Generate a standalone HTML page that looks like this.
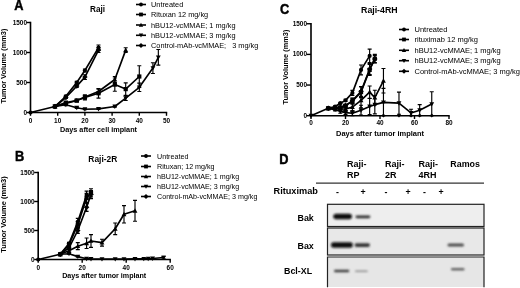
<!DOCTYPE html>
<html><head><meta charset="utf-8"><title>Figure</title><style>html,body{margin:0;padding:0;background:#fff}body{width:520px;height:288px;overflow:hidden}</style></head><body>
<svg width="520" height="288" viewBox="0 0 520 288" style="display:block;filter:blur(0.35px)">
<rect width="520" height="288" fill="#fff"/>
<text transform="translate(14.3 10.1) scale(1 1.13)" font-size="12.8" font-family="Liberation Sans, sans-serif" font-weight="bold" stroke="#000" stroke-width="0.4" text-anchor="start" fill="#000">A</text>
<text x="97.5" y="11.9" font-size="8.2" font-family="Liberation Sans, sans-serif" font-weight="bold" text-anchor="middle" fill="#000">Raji</text>
<path d="M30.5 21.80V112.5H167.20" fill="none" stroke="#000" stroke-width="1.6"/>
<path d="M26.5 112.50H30.5" stroke="#000" stroke-width="1.4"/>
<text transform="translate(27.0 114.55) scale(0.95 1)" font-size="6.8" font-family="Liberation Sans, sans-serif" font-weight="bold" text-anchor="end" fill="#000">0</text>
<path d="M26.5 82.50H30.5" stroke="#000" stroke-width="1.4"/>
<text transform="translate(27.0 84.55) scale(0.95 1)" font-size="6.8" font-family="Liberation Sans, sans-serif" font-weight="bold" text-anchor="end" fill="#000">500</text>
<path d="M26.5 52.50H30.5" stroke="#000" stroke-width="1.4"/>
<text transform="translate(27.0 54.55) scale(0.95 1)" font-size="6.8" font-family="Liberation Sans, sans-serif" font-weight="bold" text-anchor="end" fill="#000">1000</text>
<path d="M26.5 22.50H30.5" stroke="#000" stroke-width="1.4"/>
<text transform="translate(27.0 24.55) scale(0.95 1)" font-size="6.8" font-family="Liberation Sans, sans-serif" font-weight="bold" text-anchor="end" fill="#000">1500</text>
<path d="M30.50 112.5V115.8" stroke="#000" stroke-width="1.4"/>
<text transform="translate(30.5 122.5) scale(0.95 1)" font-size="6.8" font-family="Liberation Sans, sans-serif" font-weight="bold" text-anchor="middle" fill="#000">0</text>
<path d="M57.70 112.5V115.8" stroke="#000" stroke-width="1.4"/>
<text transform="translate(57.7 122.5) scale(0.95 1)" font-size="6.8" font-family="Liberation Sans, sans-serif" font-weight="bold" text-anchor="middle" fill="#000">10</text>
<path d="M84.90 112.5V115.8" stroke="#000" stroke-width="1.4"/>
<text transform="translate(84.9 122.5) scale(0.95 1)" font-size="6.8" font-family="Liberation Sans, sans-serif" font-weight="bold" text-anchor="middle" fill="#000">20</text>
<path d="M112.10 112.5V115.8" stroke="#000" stroke-width="1.4"/>
<text transform="translate(112.1 122.5) scale(0.95 1)" font-size="6.8" font-family="Liberation Sans, sans-serif" font-weight="bold" text-anchor="middle" fill="#000">30</text>
<path d="M139.30 112.5V115.8" stroke="#000" stroke-width="1.4"/>
<text transform="translate(139.3 122.5) scale(0.95 1)" font-size="6.8" font-family="Liberation Sans, sans-serif" font-weight="bold" text-anchor="middle" fill="#000">40</text>
<path d="M166.50 112.5V115.8" stroke="#000" stroke-width="1.4"/>
<text transform="translate(166.5 122.5) scale(0.95 1)" font-size="6.8" font-family="Liberation Sans, sans-serif" font-weight="bold" text-anchor="middle" fill="#000">50</text>
<path d="M54.98 105.90V107.10M52.98 105.90H56.98M52.98 107.10H56.98" stroke="#000" stroke-width="1.15" fill="none"/>
<path d="M65.86 95.40V97.20M63.86 95.40H67.86M63.86 97.20H67.86" stroke="#000" stroke-width="1.15" fill="none"/>
<path d="M76.74 81.30V83.70M74.74 81.30H78.74M74.74 83.70H78.74" stroke="#000" stroke-width="1.15" fill="none"/>
<path d="M84.90 69.00V72.00M82.90 69.00H86.90M82.90 72.00H86.90" stroke="#000" stroke-width="1.15" fill="none"/>
<path d="M98.50 45.00V50.40M96.50 45.00H100.50M96.50 50.40H100.50" stroke="#000" stroke-width="1.15" fill="none"/>
<path d="M30.50 112.50 L54.98 106.50 L65.86 96.30 L76.74 82.50 L84.90 70.50 L98.50 47.70" fill="none" stroke="#000" stroke-width="1.65" stroke-linejoin="round"/>
<circle cx="30.50" cy="112.50" r="2.10" fill="#000"/>
<circle cx="54.98" cy="106.50" r="2.10" fill="#000"/>
<circle cx="65.86" cy="96.30" r="2.10" fill="#000"/>
<circle cx="76.74" cy="82.50" r="2.10" fill="#000"/>
<circle cx="84.90" cy="70.50" r="2.10" fill="#000"/>
<circle cx="98.50" cy="47.70" r="2.10" fill="#000"/>
<path d="M54.98 105.90V107.10M52.98 105.90H56.98M52.98 107.10H56.98" stroke="#000" stroke-width="1.15" fill="none"/>
<path d="M65.86 96.60V98.40M63.86 96.60H67.86M63.86 98.40H67.86" stroke="#000" stroke-width="1.15" fill="none"/>
<path d="M76.74 84.90V87.30M74.74 84.90H78.74M74.74 87.30H78.74" stroke="#000" stroke-width="1.15" fill="none"/>
<path d="M84.90 74.70V79.50M82.90 74.70H86.90M82.90 79.50H86.90" stroke="#000" stroke-width="1.15" fill="none"/>
<path d="M98.50 47.70V52.50M96.50 47.70H100.50M96.50 52.50H100.50" stroke="#000" stroke-width="1.15" fill="none"/>
<path d="M54.98 106.50 L65.86 97.50 L76.74 86.10 L84.90 77.10 L98.50 50.10" fill="none" stroke="#000" stroke-width="1.65" stroke-linejoin="round"/>
<polygon points="54.98,103.77 57.71,106.50 54.98,109.23 52.25,106.50" fill="#000"/>
<polygon points="65.86,94.77 68.59,97.50 65.86,100.23 63.13,97.50" fill="#000"/>
<polygon points="76.74,83.37 79.47,86.10 76.74,88.83 74.01,86.10" fill="#000"/>
<polygon points="84.90,74.37 87.63,77.10 84.90,79.83 82.17,77.10" fill="#000"/>
<polygon points="98.50,47.37 101.23,50.10 98.50,52.83 95.77,50.10" fill="#000"/>
<path d="M54.98 105.90V107.10M52.98 105.90H56.98M52.98 107.10H56.98" stroke="#000" stroke-width="1.15" fill="none"/>
<path d="M65.86 102.60V104.40M63.86 102.60H67.86M63.86 104.40H67.86" stroke="#000" stroke-width="1.15" fill="none"/>
<path d="M76.74 99.60V101.40M74.74 99.60H78.74M74.74 101.40H78.74" stroke="#000" stroke-width="1.15" fill="none"/>
<path d="M84.90 95.10V98.70M82.90 95.10H86.90M82.90 98.70H86.90" stroke="#000" stroke-width="1.15" fill="none"/>
<path d="M98.50 89.10V93.90M96.50 89.10H100.50M96.50 93.90H100.50" stroke="#000" stroke-width="1.15" fill="none"/>
<path d="M114.82 76.50V82.50M112.82 76.50H116.82M112.82 82.50H116.82" stroke="#000" stroke-width="1.15" fill="none"/>
<path d="M125.70 47.70V52.50M123.70 47.70H127.70M123.70 52.50H127.70" stroke="#000" stroke-width="1.15" fill="none"/>
<path d="M54.98 106.50 L65.86 103.50 L76.74 100.50 L84.90 96.90 L98.50 91.50 L114.82 79.50 L125.70 50.10" fill="none" stroke="#000" stroke-width="1.65" stroke-linejoin="round"/>
<polygon points="54.98,103.98 57.40,108.39 52.57,108.39" fill="#000"/>
<polygon points="65.86,100.98 68.28,105.39 63.45,105.39" fill="#000"/>
<polygon points="76.74,97.98 79.16,102.39 74.33,102.39" fill="#000"/>
<polygon points="84.90,94.38 87.32,98.79 82.48,98.79" fill="#000"/>
<polygon points="98.50,88.98 100.92,93.39 96.08,93.39" fill="#000"/>
<polygon points="114.82,76.98 117.24,81.39 112.41,81.39" fill="#000"/>
<polygon points="125.70,47.58 128.12,51.99 123.28,51.99" fill="#000"/>
<path d="M54.98 105.90V107.10M52.98 105.90H56.98M52.98 107.10H56.98" stroke="#000" stroke-width="1.15" fill="none"/>
<path d="M65.86 101.70V103.50M63.86 101.70H67.86M63.86 103.50H67.86" stroke="#000" stroke-width="1.15" fill="none"/>
<path d="M76.74 99.30V101.70M74.74 99.30H78.74M74.74 101.70H78.74" stroke="#000" stroke-width="1.15" fill="none"/>
<path d="M84.90 95.10V99.90M82.90 95.10H86.90M82.90 99.90H86.90" stroke="#000" stroke-width="1.15" fill="none"/>
<path d="M98.50 88.50V98.10M96.50 88.50H100.50M96.50 98.10H100.50" stroke="#000" stroke-width="1.15" fill="none"/>
<path d="M114.82 78.00V91.20M112.82 78.00H116.82M112.82 91.20H116.82" stroke="#000" stroke-width="1.15" fill="none"/>
<path d="M125.70 82.80V95.40M123.70 82.80H127.70M123.70 95.40H127.70" stroke="#000" stroke-width="1.15" fill="none"/>
<path d="M139.30 65.70V87.30M137.30 65.70H141.30M137.30 87.30H141.30" stroke="#000" stroke-width="1.15" fill="none"/>
<path d="M54.98 106.50 L65.86 102.60 L76.74 100.50 L84.90 97.50 L98.50 93.30 L114.82 84.60 L125.70 89.10 L139.30 76.50" fill="none" stroke="#000" stroke-width="1.65" stroke-linejoin="round"/>
<rect x="52.88" y="104.40" width="4.20" height="4.20" fill="#000"/>
<rect x="63.76" y="100.50" width="4.20" height="4.20" fill="#000"/>
<rect x="74.64" y="98.40" width="4.20" height="4.20" fill="#000"/>
<rect x="82.80" y="95.40" width="4.20" height="4.20" fill="#000"/>
<rect x="96.40" y="91.20" width="4.20" height="4.20" fill="#000"/>
<rect x="112.72" y="82.50" width="4.20" height="4.20" fill="#000"/>
<rect x="123.60" y="87.00" width="4.20" height="4.20" fill="#000"/>
<rect x="137.20" y="74.40" width="4.20" height="4.20" fill="#000"/>
<path d="M54.98 105.90V107.10M52.98 105.90H56.98M52.98 107.10H56.98" stroke="#000" stroke-width="1.15" fill="none"/>
<path d="M65.86 103.80V105.60M63.86 103.80H67.86M63.86 105.60H67.86" stroke="#000" stroke-width="1.15" fill="none"/>
<path d="M76.74 107.10V108.30M74.74 107.10H78.74M74.74 108.30H78.74" stroke="#000" stroke-width="1.15" fill="none"/>
<path d="M84.90 108.72V109.68M82.90 108.72H86.90M82.90 109.68H86.90" stroke="#000" stroke-width="1.15" fill="none"/>
<path d="M98.50 108.42V109.38M96.50 108.42H100.50M96.50 109.38H100.50" stroke="#000" stroke-width="1.15" fill="none"/>
<path d="M114.82 105.90V107.10M112.82 105.90H116.82M112.82 107.10H116.82" stroke="#000" stroke-width="1.15" fill="none"/>
<path d="M125.70 95.70V100.50M123.70 95.70H127.70M123.70 100.50H127.70" stroke="#000" stroke-width="1.15" fill="none"/>
<path d="M139.30 83.10V91.50M137.30 83.10H141.30M137.30 91.50H141.30" stroke="#000" stroke-width="1.15" fill="none"/>
<path d="M152.90 62.70V73.50M150.90 62.70H154.90M150.90 73.50H154.90" stroke="#000" stroke-width="1.15" fill="none"/>
<path d="M158.34 49.50V65.10M156.34 49.50H160.34M156.34 65.10H160.34" stroke="#000" stroke-width="1.15" fill="none"/>
<path d="M54.98 106.50 L65.86 104.70 L76.74 107.70 L84.90 109.20 L98.50 108.90 L114.82 106.50 L125.70 98.10 L139.30 87.30 L152.90 68.10 L158.34 57.30" fill="none" stroke="#000" stroke-width="1.65" stroke-linejoin="round"/>
<polygon points="54.98,109.02 57.40,104.61 52.57,104.61" fill="#000"/>
<polygon points="65.86,107.22 68.28,102.81 63.45,102.81" fill="#000"/>
<polygon points="76.74,110.22 79.16,105.81 74.33,105.81" fill="#000"/>
<polygon points="84.90,111.72 87.32,107.31 82.48,107.31" fill="#000"/>
<polygon points="98.50,111.42 100.92,107.01 96.08,107.01" fill="#000"/>
<polygon points="114.82,109.02 117.24,104.61 112.41,104.61" fill="#000"/>
<polygon points="125.70,100.62 128.12,96.21 123.28,96.21" fill="#000"/>
<polygon points="139.30,89.82 141.72,85.41 136.89,85.41" fill="#000"/>
<polygon points="152.90,70.62 155.31,66.21 150.49,66.21" fill="#000"/>
<polygon points="158.34,59.82 160.75,55.41 155.93,55.41" fill="#000"/>
<text x="6.3" y="66" font-size="7.4" font-family="Liberation Sans, sans-serif" font-weight="bold" text-anchor="middle" fill="#000" transform="rotate(-90 6.3 66)">Tumor Volume (mm3)</text>
<text x="98.5" y="132.2" font-size="7.25" font-family="Liberation Sans, sans-serif" font-weight="bold" text-anchor="middle" fill="#000">Days after cell implant</text>
<path d="M136 4.5H146" stroke="#000" stroke-width="1.6"/>
<circle cx="141.00" cy="4.50" r="1.90" fill="#000"/>
<text x="151" y="7.1" font-size="7.35" font-family="Liberation Sans, sans-serif" text-anchor="start" fill="#000">Untreated</text>
<path d="M136 14.5H146" stroke="#000" stroke-width="1.6"/>
<rect x="139.10" y="12.60" width="3.80" height="3.80" fill="#000"/>
<text x="151" y="17.1" font-size="7.35" font-family="Liberation Sans, sans-serif" text-anchor="start" fill="#000">Rituxan 12 mg/kg</text>
<path d="M136 25H146" stroke="#000" stroke-width="1.6"/>
<polygon points="141.00,22.72 143.19,26.71 138.81,26.71" fill="#000"/>
<text x="151" y="27.6" font-size="7.35" font-family="Liberation Sans, sans-serif" text-anchor="start" fill="#000">hBU12-vcMMAE; 1 mg/kg</text>
<path d="M136 35.3H146" stroke="#000" stroke-width="1.6"/>
<polygon points="141.00,37.58 143.19,33.59 138.81,33.59" fill="#000"/>
<text x="151" y="37.9" font-size="7.35" font-family="Liberation Sans, sans-serif" text-anchor="start" fill="#000">hBU12-vcMMAE; 3 mg/kg</text>
<path d="M136 45.5H146" stroke="#000" stroke-width="1.6"/>
<polygon points="141.00,43.03 143.47,45.50 141.00,47.97 138.53,45.50" fill="#000"/>
<text x="151" y="48.1" font-size="7.35" font-family="Liberation Sans, sans-serif" text-anchor="start" fill="#000">Control-mAb-vcMMAE;&#160;&#160; 3 mg/kg</text>
<text transform="translate(14.9 161.3) scale(1 1.13)" font-size="12.8" font-family="Liberation Sans, sans-serif" font-weight="bold" stroke="#000" stroke-width="0.4" text-anchor="start" fill="#000">B</text>
<text x="102.8" y="161.5" font-size="8.4" font-family="Liberation Sans, sans-serif" font-weight="bold" text-anchor="middle" fill="#000">Raji-2R</text>
<path d="M38.2 171.80V259.5H170.90" fill="none" stroke="#000" stroke-width="1.6"/>
<path d="M34.2 259.50H38.2" stroke="#000" stroke-width="1.4"/>
<text transform="translate(34.7 261.55) scale(0.95 1)" font-size="6.8" font-family="Liberation Sans, sans-serif" font-weight="bold" text-anchor="end" fill="#000">0</text>
<path d="M34.2 230.50H38.2" stroke="#000" stroke-width="1.4"/>
<text transform="translate(34.7 232.55) scale(0.95 1)" font-size="6.8" font-family="Liberation Sans, sans-serif" font-weight="bold" text-anchor="end" fill="#000">500</text>
<path d="M34.2 201.50H38.2" stroke="#000" stroke-width="1.4"/>
<text transform="translate(34.7 203.55) scale(0.95 1)" font-size="6.8" font-family="Liberation Sans, sans-serif" font-weight="bold" text-anchor="end" fill="#000">1000</text>
<path d="M34.2 172.50H38.2" stroke="#000" stroke-width="1.4"/>
<text transform="translate(34.7 174.55) scale(0.95 1)" font-size="6.8" font-family="Liberation Sans, sans-serif" font-weight="bold" text-anchor="end" fill="#000">1500</text>
<path d="M38.20 259.5V262.8" stroke="#000" stroke-width="1.4"/>
<text transform="translate(38.2 269.5) scale(0.95 1)" font-size="6.8" font-family="Liberation Sans, sans-serif" font-weight="bold" text-anchor="middle" fill="#000">0</text>
<path d="M82.20 259.5V262.8" stroke="#000" stroke-width="1.4"/>
<text transform="translate(82.2 269.5) scale(0.95 1)" font-size="6.8" font-family="Liberation Sans, sans-serif" font-weight="bold" text-anchor="middle" fill="#000">20</text>
<path d="M126.20 259.5V262.8" stroke="#000" stroke-width="1.4"/>
<text transform="translate(126.2 269.5) scale(0.95 1)" font-size="6.8" font-family="Liberation Sans, sans-serif" font-weight="bold" text-anchor="middle" fill="#000">40</text>
<path d="M170.20 259.5V262.8" stroke="#000" stroke-width="1.4"/>
<text transform="translate(170.2 269.5) scale(0.95 1)" font-size="6.8" font-family="Liberation Sans, sans-serif" font-weight="bold" text-anchor="middle" fill="#000">60</text>
<path d="M60.20 253.82V254.74M58.20 253.82H62.20M58.20 254.74H62.20" stroke="#000" stroke-width="1.15" fill="none"/>
<path d="M69.00 242.39V244.71M67.00 242.39H71.00M67.00 244.71H71.00" stroke="#000" stroke-width="1.15" fill="none"/>
<path d="M77.80 218.32V225.28M75.80 218.32H79.80M75.80 225.28H79.80" stroke="#000" stroke-width="1.15" fill="none"/>
<path d="M86.60 191.06V199.18M84.60 191.06H88.60M84.60 199.18H88.60" stroke="#000" stroke-width="1.15" fill="none"/>
<path d="M38.20 259.50 L60.20 254.28 L69.00 243.55 L77.80 221.80 L86.60 195.12" fill="none" stroke="#000" stroke-width="1.65" stroke-linejoin="round"/>
<circle cx="38.20" cy="259.50" r="2.10" fill="#000"/>
<circle cx="60.20" cy="254.28" r="2.10" fill="#000"/>
<circle cx="69.00" cy="243.55" r="2.10" fill="#000"/>
<circle cx="77.80" cy="221.80" r="2.10" fill="#000"/>
<circle cx="86.60" cy="195.12" r="2.10" fill="#000"/>
<path d="M60.20 253.82V254.74M58.20 253.82H62.20M58.20 254.74H62.20" stroke="#000" stroke-width="1.15" fill="none"/>
<path d="M69.00 243.84V246.16M67.00 243.84H71.00M67.00 246.16H71.00" stroke="#000" stroke-width="1.15" fill="none"/>
<path d="M77.80 221.22V228.18M75.80 221.22H79.80M75.80 228.18H79.80" stroke="#000" stroke-width="1.15" fill="none"/>
<path d="M86.60 193.38V202.66M84.60 193.38H88.60M84.60 202.66H88.60" stroke="#000" stroke-width="1.15" fill="none"/>
<path d="M91.00 188.74V196.86M89.00 188.74H93.00M89.00 196.86H93.00" stroke="#000" stroke-width="1.15" fill="none"/>
<path d="M60.20 254.28 L69.00 245.00 L77.80 224.70 L86.60 198.02 L91.00 192.80" fill="none" stroke="#000" stroke-width="1.65" stroke-linejoin="round"/>
<rect x="58.10" y="252.18" width="4.20" height="4.20" fill="#000"/>
<rect x="66.90" y="242.90" width="4.20" height="4.20" fill="#000"/>
<rect x="75.70" y="222.60" width="4.20" height="4.20" fill="#000"/>
<rect x="84.50" y="195.92" width="4.20" height="4.20" fill="#000"/>
<rect x="88.90" y="190.70" width="4.20" height="4.20" fill="#000"/>
<path d="M60.20 253.82V254.74M58.20 253.82H62.20M58.20 254.74H62.20" stroke="#000" stroke-width="1.15" fill="none"/>
<path d="M69.00 246.74V249.06M67.00 246.74H71.00M67.00 249.06H71.00" stroke="#000" stroke-width="1.15" fill="none"/>
<path d="M77.80 227.60V233.40M75.80 227.60H79.80M75.80 233.40H79.80" stroke="#000" stroke-width="1.15" fill="none"/>
<path d="M86.60 203.24V211.36M84.60 203.24H88.60M84.60 211.36H88.60" stroke="#000" stroke-width="1.15" fill="none"/>
<path d="M91.00 190.48V198.60M89.00 190.48H93.00M89.00 198.60H93.00" stroke="#000" stroke-width="1.15" fill="none"/>
<path d="M60.20 254.28 L69.00 247.90 L77.80 230.50 L86.60 207.30 L91.00 194.54" fill="none" stroke="#000" stroke-width="1.65" stroke-linejoin="round"/>
<polygon points="60.20,251.55 62.93,254.28 60.20,257.01 57.47,254.28" fill="#000"/>
<polygon points="69.00,245.17 71.73,247.90 69.00,250.63 66.27,247.90" fill="#000"/>
<polygon points="77.80,227.77 80.53,230.50 77.80,233.23 75.07,230.50" fill="#000"/>
<polygon points="86.60,204.57 89.33,207.30 86.60,210.03 83.87,207.30" fill="#000"/>
<polygon points="91.00,191.81 93.73,194.54 91.00,197.27 88.27,194.54" fill="#000"/>
<path d="M60.20 253.82V254.74M58.20 253.82H62.20M58.20 254.74H62.20" stroke="#000" stroke-width="1.15" fill="none"/>
<path d="M69.00 249.06V252.54M67.00 249.06H71.00M67.00 252.54H71.00" stroke="#000" stroke-width="1.15" fill="none"/>
<path d="M77.80 242.68V249.64M75.80 242.68H79.80M75.80 249.64H79.80" stroke="#000" stroke-width="1.15" fill="none"/>
<path d="M86.60 238.04V248.48M84.60 238.04H88.60M84.60 248.48H88.60" stroke="#000" stroke-width="1.15" fill="none"/>
<path d="M91.00 234.56V247.32M89.00 234.56H93.00M89.00 247.32H93.00" stroke="#000" stroke-width="1.15" fill="none"/>
<path d="M102.00 239.20V246.16M100.00 239.20H104.00M100.00 246.16H104.00" stroke="#000" stroke-width="1.15" fill="none"/>
<path d="M115.20 222.96V234.56M113.20 222.96H117.20M113.20 234.56H117.20" stroke="#000" stroke-width="1.15" fill="none"/>
<path d="M124.00 205.56V222.96M122.00 205.56H126.00M122.00 222.96H126.00" stroke="#000" stroke-width="1.15" fill="none"/>
<path d="M135.00 200.34V221.22M133.00 200.34H137.00M133.00 221.22H137.00" stroke="#000" stroke-width="1.15" fill="none"/>
<path d="M60.20 254.28 L69.00 250.80 L77.80 246.16 L86.60 243.26 L91.00 240.94 L102.00 242.68 L115.20 228.76 L124.00 214.26 L135.00 210.78" fill="none" stroke="#000" stroke-width="1.65" stroke-linejoin="round"/>
<polygon points="60.20,251.76 62.62,256.17 57.79,256.17" fill="#000"/>
<polygon points="69.00,248.28 71.42,252.69 66.58,252.69" fill="#000"/>
<polygon points="77.80,243.64 80.22,248.05 75.39,248.05" fill="#000"/>
<polygon points="86.60,240.74 89.02,245.15 84.19,245.15" fill="#000"/>
<polygon points="91.00,238.42 93.42,242.83 88.58,242.83" fill="#000"/>
<polygon points="102.00,240.16 104.42,244.57 99.58,244.57" fill="#000"/>
<polygon points="115.20,226.24 117.62,230.65 112.78,230.65" fill="#000"/>
<polygon points="124.00,211.74 126.42,216.15 121.59,216.15" fill="#000"/>
<polygon points="135.00,208.26 137.41,212.67 132.59,212.67" fill="#000"/>
<path d="M60.20 253.82V254.74M58.20 253.82H62.20M58.20 254.74H62.20" stroke="#000" stroke-width="1.15" fill="none"/>
<path d="M69.00 253.12V254.28M67.00 253.12H71.00M67.00 254.28H71.00" stroke="#000" stroke-width="1.15" fill="none"/>
<path d="M77.80 256.02V257.18M75.80 256.02H79.80M75.80 257.18H79.80" stroke="#000" stroke-width="1.15" fill="none"/>
<path d="M163.60 256.25V258.80M161.60 256.25H165.60M161.60 258.80H165.60" stroke="#000" stroke-width="1.15" fill="none"/>
<path d="M60.20 254.28 L69.00 253.70 L77.80 256.60 L86.60 258.69 L91.00 258.92 L102.00 259.04 L115.20 259.04 L124.00 259.04 L135.00 258.92 L143.80 258.80 L148.20 258.69 L152.60 258.46 L163.60 257.53" fill="none" stroke="#000" stroke-width="1.65" stroke-linejoin="round"/>
<polygon points="60.20,256.80 62.62,252.39 57.79,252.39" fill="#000"/>
<polygon points="69.00,256.22 71.42,251.81 66.58,251.81" fill="#000"/>
<polygon points="77.80,259.12 80.22,254.71 75.39,254.71" fill="#000"/>
<polygon points="86.60,261.21 89.02,256.80 84.19,256.80" fill="#000"/>
<polygon points="91.00,261.44 93.42,257.03 88.58,257.03" fill="#000"/>
<polygon points="102.00,261.56 104.42,257.15 99.58,257.15" fill="#000"/>
<polygon points="115.20,261.56 117.62,257.15 112.78,257.15" fill="#000"/>
<polygon points="124.00,261.56 126.42,257.15 121.59,257.15" fill="#000"/>
<polygon points="135.00,261.44 137.41,257.03 132.59,257.03" fill="#000"/>
<polygon points="143.80,261.32 146.22,256.91 141.39,256.91" fill="#000"/>
<polygon points="148.20,261.21 150.62,256.80 145.79,256.80" fill="#000"/>
<polygon points="152.60,260.98 155.02,256.57 150.19,256.57" fill="#000"/>
<polygon points="163.60,260.05 166.02,255.64 161.19,255.64" fill="#000"/>
<text x="6.3" y="214.5" font-size="7.55" font-family="Liberation Sans, sans-serif" font-weight="bold" text-anchor="middle" fill="#000" transform="rotate(-90 6.3 214.5)">Tumor Volume (mm3)</text>
<text x="104.2" y="278" font-size="7.13" font-family="Liberation Sans, sans-serif" font-weight="bold" text-anchor="middle" fill="#000">Days after tumor implant</text>
<path d="M141 156H151" stroke="#000" stroke-width="1.6"/>
<circle cx="146.00" cy="156.00" r="1.90" fill="#000"/>
<text x="157" y="158.6" font-size="7.15" font-family="Liberation Sans, sans-serif" text-anchor="start" fill="#000">Untreated</text>
<path d="M141 166.5H151" stroke="#000" stroke-width="1.6"/>
<rect x="144.10" y="164.60" width="3.80" height="3.80" fill="#000"/>
<text x="157" y="169.1" font-size="7.15" font-family="Liberation Sans, sans-serif" text-anchor="start" fill="#000">Rituxan; 12 mg/kg</text>
<path d="M141 176.5H151" stroke="#000" stroke-width="1.6"/>
<polygon points="146.00,174.22 148.19,178.21 143.81,178.21" fill="#000"/>
<text x="157" y="179.1" font-size="7.15" font-family="Liberation Sans, sans-serif" text-anchor="start" fill="#000">hBU12-vcMMAE; 1 mg/kg</text>
<path d="M141 186.5H151" stroke="#000" stroke-width="1.6"/>
<polygon points="146.00,188.78 148.19,184.79 143.81,184.79" fill="#000"/>
<text x="157" y="189.1" font-size="7.15" font-family="Liberation Sans, sans-serif" text-anchor="start" fill="#000">hBU12-vcMMAE; 3 mg/kg</text>
<path d="M141 196.5H151" stroke="#000" stroke-width="1.6"/>
<polygon points="146.00,194.03 148.47,196.50 146.00,198.97 143.53,196.50" fill="#000"/>
<text x="157" y="199.1" font-size="7.15" font-family="Liberation Sans, sans-serif" text-anchor="start" fill="#000">Control-mAb-vcMMAE; 3 mg/kg</text>
<text transform="translate(280.1 14.1) scale(1 1.13)" font-size="12.8" font-family="Liberation Sans, sans-serif" font-weight="bold" stroke="#000" stroke-width="0.4" text-anchor="start" fill="#000">C</text>
<text x="379.3" y="12.6" font-size="8.75" font-family="Liberation Sans, sans-serif" font-weight="bold" text-anchor="middle" fill="#000">Raji-4RH</text>
<path d="M311 23.05V115.7H449.70" fill="none" stroke="#000" stroke-width="1.6"/>
<path d="M306.5 115.70H311" stroke="#000" stroke-width="1.4"/>
<text transform="translate(307.0 117.75) scale(0.95 1)" font-size="6.8" font-family="Liberation Sans, sans-serif" font-weight="bold" text-anchor="end" fill="#000">0</text>
<path d="M306.5 85.05H311" stroke="#000" stroke-width="1.4"/>
<text transform="translate(307.0 87.1) scale(0.95 1)" font-size="6.8" font-family="Liberation Sans, sans-serif" font-weight="bold" text-anchor="end" fill="#000">500</text>
<path d="M306.5 54.40H311" stroke="#000" stroke-width="1.4"/>
<text transform="translate(307.0 56.45) scale(0.95 1)" font-size="6.8" font-family="Liberation Sans, sans-serif" font-weight="bold" text-anchor="end" fill="#000">1000</text>
<path d="M306.5 23.75H311" stroke="#000" stroke-width="1.4"/>
<text transform="translate(307.0 25.8) scale(0.95 1)" font-size="6.8" font-family="Liberation Sans, sans-serif" font-weight="bold" text-anchor="end" fill="#000">1500</text>
<path d="M311.00 115.7V119.0" stroke="#000" stroke-width="1.4"/>
<text transform="translate(311.0 124.8) scale(0.95 1)" font-size="6.8" font-family="Liberation Sans, sans-serif" font-weight="bold" text-anchor="middle" fill="#000">0</text>
<path d="M345.50 115.7V119.0" stroke="#000" stroke-width="1.4"/>
<text transform="translate(345.5 124.8) scale(0.95 1)" font-size="6.8" font-family="Liberation Sans, sans-serif" font-weight="bold" text-anchor="middle" fill="#000">20</text>
<path d="M380.00 115.7V119.0" stroke="#000" stroke-width="1.4"/>
<text transform="translate(380.0 124.8) scale(0.95 1)" font-size="6.8" font-family="Liberation Sans, sans-serif" font-weight="bold" text-anchor="middle" fill="#000">40</text>
<path d="M414.50 115.7V119.0" stroke="#000" stroke-width="1.4"/>
<text transform="translate(414.5 124.8) scale(0.95 1)" font-size="6.8" font-family="Liberation Sans, sans-serif" font-weight="bold" text-anchor="middle" fill="#000">60</text>
<path d="M449.00 115.7V119.0" stroke="#000" stroke-width="1.4"/>
<text transform="translate(449.0 124.8) scale(0.95 1)" font-size="6.8" font-family="Liberation Sans, sans-serif" font-weight="bold" text-anchor="middle" fill="#000">80</text>
<path d="M328.25 107.73V108.96M326.25 107.73H330.25M326.25 108.96H330.25" stroke="#000" stroke-width="1.15" fill="none"/>
<path d="M335.15 108.34V110.80M333.15 108.34H337.15M333.15 110.80H337.15" stroke="#000" stroke-width="1.15" fill="none"/>
<path d="M340.32 109.57V113.25M338.32 109.57H342.32M338.32 113.25H342.32" stroke="#000" stroke-width="1.15" fill="none"/>
<path d="M345.50 110.80V114.47M343.50 110.80H347.50M343.50 114.47H347.50" stroke="#000" stroke-width="1.15" fill="none"/>
<path d="M352.40 110.80V115.70M350.40 110.80H354.40M350.40 115.70H354.40" stroke="#000" stroke-width="1.15" fill="none"/>
<path d="M361.02 105.28V115.09M359.02 105.28H363.02M359.02 115.09H363.02" stroke="#000" stroke-width="1.15" fill="none"/>
<path d="M369.65 98.54V114.47M367.65 98.54H371.65M367.65 114.47H371.65" stroke="#000" stroke-width="1.15" fill="none"/>
<path d="M374.82 95.47V113.86M372.82 95.47H376.82M372.82 113.86H376.82" stroke="#000" stroke-width="1.15" fill="none"/>
<path d="M383.45 88.30V115.70M381.45 88.30H385.45M381.45 115.70H385.45" stroke="#000" stroke-width="1.15" fill="none"/>
<path d="M398.98 92.16V114.23M396.98 92.16H400.98M396.98 114.23H400.98" stroke="#000" stroke-width="1.15" fill="none"/>
<path d="M411.05 109.26V115.70M409.05 109.26H413.05M409.05 115.70H413.05" stroke="#000" stroke-width="1.15" fill="none"/>
<path d="M419.68 104.67V115.70M417.68 104.67H421.68M417.68 115.70H421.68" stroke="#000" stroke-width="1.15" fill="none"/>
<path d="M431.75 91.79V115.70M429.75 91.79H433.75M429.75 115.70H433.75" stroke="#000" stroke-width="1.15" fill="none"/>
<path d="M311.00 115.70 L328.25 108.34 L335.15 109.57 L340.32 111.41 L345.50 112.64 L352.40 113.25 L361.02 110.18 L369.65 106.50 L374.82 104.67 L383.45 102.40 L398.98 103.19 L411.05 112.94 L419.68 110.18 L431.75 104.05" fill="none" stroke="#000" stroke-width="1.65" stroke-linejoin="round"/>
<polygon points="311.00,118.22 313.42,113.81 308.58,113.81" fill="#000"/>
<polygon points="328.25,110.86 330.67,106.45 325.83,106.45" fill="#000"/>
<polygon points="335.15,112.09 337.56,107.68 332.73,107.68" fill="#000"/>
<polygon points="340.32,113.93 342.74,109.52 337.91,109.52" fill="#000"/>
<polygon points="345.50,115.16 347.92,110.75 343.08,110.75" fill="#000"/>
<polygon points="352.40,115.77 354.81,111.36 349.98,111.36" fill="#000"/>
<polygon points="361.02,112.70 363.44,108.29 358.61,108.29" fill="#000"/>
<polygon points="369.65,109.02 372.06,104.61 367.23,104.61" fill="#000"/>
<polygon points="374.82,107.19 377.24,102.78 372.41,102.78" fill="#000"/>
<polygon points="383.45,104.92 385.87,100.51 381.03,100.51" fill="#000"/>
<polygon points="398.98,105.71 401.39,101.30 396.56,101.30" fill="#000"/>
<polygon points="411.05,115.46 413.47,111.05 408.63,111.05" fill="#000"/>
<polygon points="419.68,112.70 422.09,108.29 417.26,108.29" fill="#000"/>
<polygon points="431.75,106.57 434.17,102.16 429.33,102.16" fill="#000"/>
<path d="M328.25 107.73V108.96M326.25 107.73H330.25M326.25 108.96H330.25" stroke="#000" stroke-width="1.15" fill="none"/>
<path d="M335.15 107.12V109.57M333.15 107.12H337.15M333.15 109.57H337.15" stroke="#000" stroke-width="1.15" fill="none"/>
<path d="M340.32 107.73V110.18M338.32 107.73H342.32M338.32 110.18H342.32" stroke="#000" stroke-width="1.15" fill="none"/>
<path d="M345.50 107.12V110.80M343.50 107.12H347.50M343.50 110.80H347.50" stroke="#000" stroke-width="1.15" fill="none"/>
<path d="M352.40 103.44V110.80M350.40 103.44H354.40M350.40 110.80H354.40" stroke="#000" stroke-width="1.15" fill="none"/>
<path d="M361.02 93.02V107.73M359.02 93.02H363.02M359.02 107.73H363.02" stroke="#000" stroke-width="1.15" fill="none"/>
<path d="M369.65 85.97V98.23M367.65 85.97H371.65M367.65 98.23H371.65" stroke="#000" stroke-width="1.15" fill="none"/>
<path d="M374.82 90.26V104.97M372.82 90.26H376.82M372.82 104.97H376.82" stroke="#000" stroke-width="1.15" fill="none"/>
<path d="M383.45 68.50V93.02M381.45 68.50H385.45M381.45 93.02H385.45" stroke="#000" stroke-width="1.15" fill="none"/>
<path d="M328.25 108.34 L335.15 108.34 L340.32 108.96 L345.50 108.96 L352.40 107.12 L361.02 100.38 L369.65 92.10 L374.82 97.62 L383.45 80.76" fill="none" stroke="#000" stroke-width="1.65" stroke-linejoin="round"/>
<polygon points="328.25,105.82 330.67,110.23 325.83,110.23" fill="#000"/>
<polygon points="335.15,105.82 337.56,110.23 332.73,110.23" fill="#000"/>
<polygon points="340.32,106.44 342.74,110.85 337.91,110.85" fill="#000"/>
<polygon points="345.50,106.44 347.92,110.85 343.08,110.85" fill="#000"/>
<polygon points="352.40,104.60 354.81,109.01 349.98,109.01" fill="#000"/>
<polygon points="361.02,97.86 363.44,102.27 358.61,102.27" fill="#000"/>
<polygon points="369.65,89.58 372.06,93.99 367.23,93.99" fill="#000"/>
<polygon points="374.82,95.10 377.24,99.51 372.41,99.51" fill="#000"/>
<polygon points="383.45,78.24 385.87,82.65 381.03,82.65" fill="#000"/>
<path d="M328.25 107.85V108.83M326.25 107.85H330.25M326.25 108.83H330.25" stroke="#000" stroke-width="1.15" fill="none"/>
<path d="M335.15 107.42V108.65M333.15 107.42H337.15M333.15 108.65H337.15" stroke="#000" stroke-width="1.15" fill="none"/>
<path d="M340.32 106.50V107.98M338.32 106.50H342.32M338.32 107.98H342.32" stroke="#000" stroke-width="1.15" fill="none"/>
<path d="M345.50 104.36V106.81M343.50 104.36H347.50M343.50 106.81H347.50" stroke="#000" stroke-width="1.15" fill="none"/>
<path d="M352.40 98.23V103.13M350.40 98.23H354.40M350.40 103.13H354.40" stroke="#000" stroke-width="1.15" fill="none"/>
<path d="M361.02 86.58V96.39M359.02 86.58H363.02M359.02 96.39H363.02" stroke="#000" stroke-width="1.15" fill="none"/>
<path d="M369.65 63.60V74.63M367.65 63.60H371.65M367.65 74.63H371.65" stroke="#000" stroke-width="1.15" fill="none"/>
<path d="M374.82 55.32V62.68M372.82 55.32H376.82M372.82 62.68H376.82" stroke="#000" stroke-width="1.15" fill="none"/>
<path d="M328.25 108.34 L335.15 108.04 L340.32 107.24 L345.50 105.59 L352.40 100.68 L361.02 91.49 L369.65 69.11 L374.82 59.00" fill="none" stroke="#000" stroke-width="1.65" stroke-linejoin="round"/>
<polygon points="328.25,105.61 330.98,108.34 328.25,111.07 325.52,108.34" fill="#000"/>
<polygon points="335.15,105.31 337.88,108.04 335.15,110.77 332.42,108.04" fill="#000"/>
<polygon points="340.32,104.51 343.06,107.24 340.32,109.97 337.59,107.24" fill="#000"/>
<polygon points="345.50,102.86 348.23,105.59 345.50,108.32 342.77,105.59" fill="#000"/>
<polygon points="352.40,97.95 355.13,100.68 352.40,103.41 349.67,100.68" fill="#000"/>
<polygon points="361.02,88.76 363.75,91.49 361.02,94.22 358.29,91.49" fill="#000"/>
<polygon points="369.65,66.38 372.38,69.11 369.65,71.84 366.92,69.11" fill="#000"/>
<polygon points="374.82,56.27 377.56,59.00 374.82,61.73 372.09,59.00" fill="#000"/>
<path d="M328.25 107.85V108.83M326.25 107.85H330.25M326.25 108.83H330.25" stroke="#000" stroke-width="1.15" fill="none"/>
<path d="M335.15 107.61V108.83M333.15 107.61H337.15M333.15 108.83H337.15" stroke="#000" stroke-width="1.15" fill="none"/>
<path d="M340.32 106.69V108.16M338.32 106.69H342.32M338.32 108.16H342.32" stroke="#000" stroke-width="1.15" fill="none"/>
<path d="M345.50 104.67V107.12M343.50 104.67H347.50M343.50 107.12H347.50" stroke="#000" stroke-width="1.15" fill="none"/>
<path d="M352.40 98.11V104.24M350.40 98.11H354.40M350.40 104.24H354.40" stroke="#000" stroke-width="1.15" fill="none"/>
<path d="M361.02 86.58V97.62M359.02 86.58H363.02M359.02 97.62H363.02" stroke="#000" stroke-width="1.15" fill="none"/>
<path d="M369.65 64.39V75.43M367.65 64.39H371.65M367.65 75.43H371.65" stroke="#000" stroke-width="1.15" fill="none"/>
<path d="M374.82 54.40V62.98M372.82 54.40H376.82M372.82 62.98H376.82" stroke="#000" stroke-width="1.15" fill="none"/>
<path d="M328.25 108.34 L335.15 108.22 L340.32 107.42 L345.50 105.89 L352.40 101.17 L361.02 92.10 L369.65 69.91 L374.82 58.69" fill="none" stroke="#000" stroke-width="1.65" stroke-linejoin="round"/>
<rect x="326.15" y="106.24" width="4.20" height="4.20" fill="#000"/>
<rect x="333.05" y="106.12" width="4.20" height="4.20" fill="#000"/>
<rect x="338.22" y="105.32" width="4.20" height="4.20" fill="#000"/>
<rect x="343.40" y="103.79" width="4.20" height="4.20" fill="#000"/>
<rect x="350.30" y="99.07" width="4.20" height="4.20" fill="#000"/>
<rect x="358.92" y="90.00" width="4.20" height="4.20" fill="#000"/>
<rect x="367.55" y="67.81" width="4.20" height="4.20" fill="#000"/>
<rect x="372.72" y="56.59" width="4.20" height="4.20" fill="#000"/>
<path d="M328.25 107.85V108.83M326.25 107.85H330.25M326.25 108.83H330.25" stroke="#000" stroke-width="1.15" fill="none"/>
<path d="M335.15 105.89V107.12M333.15 105.89H337.15M333.15 107.12H337.15" stroke="#000" stroke-width="1.15" fill="none"/>
<path d="M340.32 102.46V103.93M338.32 102.46H342.32M338.32 103.93H342.32" stroke="#000" stroke-width="1.15" fill="none"/>
<path d="M345.50 99.27V101.48M343.50 99.27H347.50M343.50 101.48H347.50" stroke="#000" stroke-width="1.15" fill="none"/>
<path d="M352.40 90.44V95.35M350.40 90.44H354.40M350.40 95.35H354.40" stroke="#000" stroke-width="1.15" fill="none"/>
<path d="M361.02 65.00V74.81M359.02 65.00H363.02M359.02 74.81H363.02" stroke="#000" stroke-width="1.15" fill="none"/>
<path d="M369.65 49.19V62.68M367.65 49.19H371.65M367.65 62.68H371.65" stroke="#000" stroke-width="1.15" fill="none"/>
<path d="M328.25 108.34 L335.15 106.50 L340.32 103.19 L345.50 100.38 L352.40 92.90 L361.02 69.91 L369.65 55.93" fill="none" stroke="#000" stroke-width="1.65" stroke-linejoin="round"/>
<circle cx="328.25" cy="108.34" r="2.10" fill="#000"/>
<circle cx="335.15" cy="106.50" r="2.10" fill="#000"/>
<circle cx="340.32" cy="103.19" r="2.10" fill="#000"/>
<circle cx="345.50" cy="100.38" r="2.10" fill="#000"/>
<circle cx="352.40" cy="92.90" r="2.10" fill="#000"/>
<circle cx="361.02" cy="69.91" r="2.10" fill="#000"/>
<circle cx="369.65" cy="55.93" r="2.10" fill="#000"/>
<polygon points="383.45,113.55 385.40,115.50 383.45,117.45 381.50,115.50" fill="#000"/>
<polygon points="398.98,113.55 400.93,115.50 398.98,117.45 397.03,115.50" fill="#000"/>
<polygon points="411.05,113.55 413.00,115.50 411.05,117.45 409.10,115.50" fill="#000"/>
<polygon points="419.68,113.55 421.62,115.50 419.68,117.45 417.73,115.50" fill="#000"/>
<polygon points="431.75,113.55 433.70,115.50 431.75,117.45 429.80,115.50" fill="#000"/>
<text x="287.5" y="67" font-size="7.4" font-family="Liberation Sans, sans-serif" font-weight="bold" text-anchor="middle" fill="#000" transform="rotate(-90 287.5 67)">Tumor Volume (mm3)</text>
<text x="380" y="135.8" font-size="7.47" font-family="Liberation Sans, sans-serif" font-weight="bold" text-anchor="middle" fill="#000">Days after tumor implant</text>
<path d="M399 29.5H409" stroke="#000" stroke-width="1.6"/>
<circle cx="404.00" cy="29.50" r="1.90" fill="#000"/>
<text x="414.5" y="32.1" font-size="7.5" font-family="Liberation Sans, sans-serif" text-anchor="start" fill="#000">Untreated</text>
<path d="M399 39.5H409" stroke="#000" stroke-width="1.6"/>
<rect x="402.10" y="37.60" width="3.80" height="3.80" fill="#000"/>
<text x="414.5" y="42.1" font-size="7.5" font-family="Liberation Sans, sans-serif" text-anchor="start" fill="#000">rituximab 12 mg/kg</text>
<path d="M399 50.3H409" stroke="#000" stroke-width="1.6"/>
<polygon points="404.00,48.02 406.19,52.01 401.81,52.01" fill="#000"/>
<text x="414.5" y="52.9" font-size="7.5" font-family="Liberation Sans, sans-serif" text-anchor="start" fill="#000">hBU12-vcMMAE; 1 mg/kg</text>
<path d="M399 60.7H409" stroke="#000" stroke-width="1.6"/>
<polygon points="404.00,62.98 406.19,58.99 401.81,58.99" fill="#000"/>
<text x="414.5" y="63.300000000000004" font-size="7.5" font-family="Liberation Sans, sans-serif" text-anchor="start" fill="#000">hBU12-vcMMAE; 3 mg/kg</text>
<path d="M399 71.3H409" stroke="#000" stroke-width="1.6"/>
<polygon points="404.00,68.83 406.47,71.30 404.00,73.77 401.53,71.30" fill="#000"/>
<text x="414.5" y="73.89999999999999" font-size="7.5" font-family="Liberation Sans, sans-serif" text-anchor="start" fill="#000">Control-mAb-vcMMAE; 3 mg/kg</text>
<text transform="translate(279.3 163.5) scale(1 1.13)" font-size="12.8" font-family="Liberation Sans, sans-serif" font-weight="bold" stroke="#000" stroke-width="0.4" text-anchor="start" fill="#000">D</text>
<text x="347" y="166.6" font-size="9.0" font-family="Liberation Sans, sans-serif" font-weight="bold" text-anchor="start" fill="#000">Raji-</text>
<text x="347" y="178.0" font-size="9.0" font-family="Liberation Sans, sans-serif" font-weight="bold" text-anchor="start" fill="#000">RP</text>
<text x="385" y="166.6" font-size="9.0" font-family="Liberation Sans, sans-serif" font-weight="bold" text-anchor="start" fill="#000">Raji-</text>
<text x="385" y="178.0" font-size="9.0" font-family="Liberation Sans, sans-serif" font-weight="bold" text-anchor="start" fill="#000">2R</text>
<text x="418.5" y="166.6" font-size="9.0" font-family="Liberation Sans, sans-serif" font-weight="bold" text-anchor="start" fill="#000">Raji-</text>
<text x="418.5" y="178.0" font-size="9.0" font-family="Liberation Sans, sans-serif" font-weight="bold" text-anchor="start" fill="#000">4RH</text>
<text x="450.3" y="166.5" font-size="8.9" font-family="Liberation Sans, sans-serif" font-weight="bold" text-anchor="start" fill="#000">Ramos</text>
<path d="M316 183.2H484" stroke="#333" stroke-width="1.2"/>
<text x="273.5" y="194.4" font-size="9.2" font-family="Liberation Sans, sans-serif" font-weight="bold" text-anchor="start" fill="#000">Rituximab</text>
<text x="337.5" y="194.9" font-size="8.8" font-family="Liberation Sans, sans-serif" font-weight="bold" text-anchor="middle" fill="#000">-</text>
<text x="363" y="194.9" font-size="8.8" font-family="Liberation Sans, sans-serif" font-weight="bold" text-anchor="middle" fill="#000">+</text>
<text x="386" y="194.9" font-size="8.8" font-family="Liberation Sans, sans-serif" font-weight="bold" text-anchor="middle" fill="#000">-</text>
<text x="408" y="194.9" font-size="8.8" font-family="Liberation Sans, sans-serif" font-weight="bold" text-anchor="middle" fill="#000">+</text>
<text x="424.5" y="194.9" font-size="8.8" font-family="Liberation Sans, sans-serif" font-weight="bold" text-anchor="middle" fill="#000">-</text>
<text x="441" y="194.9" font-size="8.8" font-family="Liberation Sans, sans-serif" font-weight="bold" text-anchor="middle" fill="#000">+</text>
<defs><filter id="bl" x="-20%" y="-100%" width="140%" height="300%"><feGaussianBlur stdDeviation="1.1 0.85"/></filter></defs>
<rect x="327.5" y="204.3" width="156.5" height="22.19999999999999" fill="#eeeeee" stroke="#222" stroke-width="1.2"/>
<rect x="327.5" y="228" width="156.5" height="27" fill="#e8e8e8" stroke="#222" stroke-width="1.2"/>
<rect x="327.5" y="257" width="156.5" height="30" fill="#e6e6e6"/>
<path d="M327.5 287.2V257H484V287.2" fill="none" stroke="#222" stroke-width="1.2"/>
<rect x="333.3" y="213.7" width="18.69999999999999" height="5.6" rx="2.8" fill="#0a0a0a" opacity="1" filter="url(#bl)"/>
<rect x="355.5" y="215.45000000000002" width="14.800000000000011" height="2.7" rx="1.35" fill="#2a2a2a" opacity="1" filter="url(#bl)"/>
<rect x="331" y="242.3" width="21.80000000000001" height="5.4" rx="2.7" fill="#0a0a0a" opacity="1" filter="url(#bl)"/>
<rect x="354.5" y="243.29999999999998" width="15.5" height="3.6" rx="1.8" fill="#333" opacity="1" filter="url(#bl)"/>
<rect x="447.5" y="243.4" width="16.5" height="3.2" rx="1.6" fill="#4a4a4a" opacity="1" filter="url(#bl)"/>
<rect x="334" y="269.85" width="15.300000000000011" height="2.3" rx="1.15" fill="#3a3a3a" opacity="1" filter="url(#bl)"/>
<rect x="355" y="270.45" width="12.800000000000011" height="1.5" rx="0.75" fill="#888" opacity="1" filter="url(#bl)"/>
<rect x="451" y="268.35" width="13.5" height="1.9" rx="0.95" fill="#444" opacity="1" filter="url(#bl)"/>
<text x="297.5" y="220.8" font-size="8.9" font-family="Liberation Sans, sans-serif" font-weight="bold" text-anchor="start" fill="#000">Bak</text>
<text x="297.5" y="249" font-size="8.9" font-family="Liberation Sans, sans-serif" font-weight="bold" text-anchor="start" fill="#000">Bax</text>
<text x="284" y="274" font-size="8.9" font-family="Liberation Sans, sans-serif" font-weight="bold" text-anchor="start" fill="#000">Bcl-XL</text>
</svg>
</body></html>
